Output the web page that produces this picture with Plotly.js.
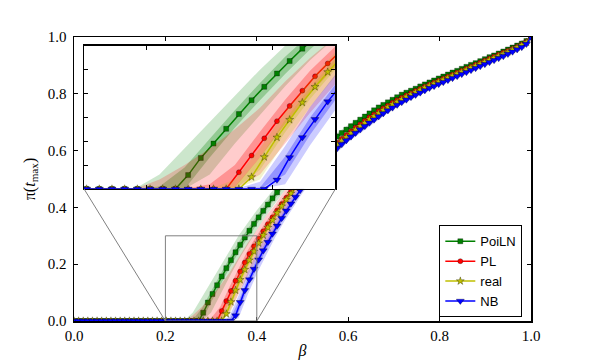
<!DOCTYPE html>
<html>
<head>
<meta charset="utf-8">
<script src="https://cdn.plot.ly/plotly-3.0.1.min.js"></script>
<style>html,body{margin:0;padding:0;background:#fff;}#chart{width:590px;height:360px;}</style>
</head>
<body>
<div id="chart"></div>
<script>
// beta grid of the curves (100 points from 0 to 1)
const beta = [
0.0000,0.0101,0.0202,0.0303,0.0404,0.0505,0.0606,0.0707,0.0808,0.0909,
0.1010,0.1111,0.1212,0.1313,0.1414,0.1515,0.1616,0.1717,0.1818,0.1919,
0.2020,0.2121,0.2222,0.2323,0.2424,0.2525,0.2626,0.2727,0.2828,0.2929,
0.3030,0.3131,0.3232,0.3333,0.3434,0.3535,0.3636,0.3737,0.3838,0.3939,
0.4040,0.4141,0.4242,0.4343,0.4444,0.4545,0.4646,0.4747,0.4848,0.4949,
0.5051,0.5152,0.5253,0.5354,0.5455,0.5556,0.5657,0.5758,0.5859,0.5960,
0.6061,0.6162,0.6263,0.6364,0.6465,0.6566,0.6667,0.6768,0.6869,0.6970,
0.7071,0.7172,0.7273,0.7374,0.7475,0.7576,0.7677,0.7778,0.7879,0.7980,
0.8081,0.8182,0.8283,0.8384,0.8485,0.8586,0.8687,0.8788,0.8889,0.8990,
0.9091,0.9192,0.9293,0.9394,0.9495,0.9596,0.9697,0.9798,0.9899,1.0000];

const poiLN = [
0,0,0,0,0,0,0,0,0,0,
0,0,0,0,0,0,0,0,0,0,
0,0,0,0,0,0,0,0,0.029,0.065,
0.095,0.126,0.157,0.186,0.214,0.242,0.268,0.294,0.318,0.342,
0.365,0.388,0.410,0.432,0.453,0.473,0.491,0.508,0.525,0.541,
0.556,0.571,0.586,0.600,0.613,0.626,0.638,0.650,0.662,0.674,
0.686,0.698,0.709,0.720,0.731,0.742,0.752,0.761,0.770,0.779,
0.788,0.797,0.804,0.811,0.818,0.826,0.833,0.840,0.847,0.854,
0.861,0.868,0.875,0.881,0.888,0.895,0.902,0.908,0.915,0.922,
0.929,0.935,0.942,0.949,0.956,0.963,0.970,0.977,0.986,1.000];

const pl = [
0,0,0,0,0,0,0,0,0,0,
0,0,0,0,0,0,0,0,0,0,
0,0,0,0,0,0,0,0,0,0,
0,0,0.035,0.070,0.106,0.142,0.174,0.206,0.236,0.263,
0.290,0.316,0.341,0.365,0.389,0.412,0.434,0.456,0.477,0.496,
0.514,0.532,0.549,0.566,0.582,0.598,0.613,0.628,0.642,0.655,
0.668,0.681,0.693,0.705,0.717,0.728,0.739,0.749,0.759,0.769,
0.778,0.787,0.795,0.803,0.811,0.818,0.826,0.833,0.840,0.847,
0.854,0.861,0.868,0.875,0.882,0.889,0.896,0.903,0.910,0.917,
0.924,0.931,0.938,0.945,0.952,0.959,0.966,0.974,0.983,1.000];

const real = [
0,0,0,0,0,0,0,0,0,0,
0,0,0,0,0,0,0,0,0,0,
0,0,0,0,0,0,0,0,0,0,
0,0,0,0.025,0.067,0.108,0.145,0.181,0.214,0.245,
0.274,0.302,0.329,0.355,0.380,0.404,0.427,0.449,0.470,0.489,
0.508,0.526,0.543,0.560,0.576,0.592,0.607,0.621,0.635,0.648,
0.661,0.674,0.686,0.698,0.710,0.721,0.732,0.743,0.753,0.763,
0.772,0.781,0.790,0.798,0.806,0.814,0.822,0.829,0.836,0.843,
0.850,0.857,0.864,0.871,0.878,0.885,0.892,0.899,0.906,0.913,
0.920,0.927,0.934,0.941,0.948,0.956,0.964,0.972,0.981,1.000];

const nb = [
0,0,0,0,0,0,0,0,0,0,
0,0,0,0,0,0,0,0,0,0,
0,0,0,0,0,0,0,0,0,0,
0,0,0,0,0,0.019,0.066,0.108,0.146,0.183,
0.216,0.248,0.278,0.307,0.335,0.362,0.388,0.413,0.437,0.460,
0.482,0.503,0.523,0.542,0.560,0.577,0.593,0.608,0.622,0.636,
0.649,0.662,0.674,0.686,0.698,0.709,0.720,0.731,0.741,0.751,
0.761,0.770,0.779,0.788,0.796,0.804,0.812,0.820,0.827,0.834,
0.841,0.848,0.855,0.862,0.869,0.876,0.883,0.890,0.897,0.904,
0.911,0.918,0.925,0.932,0.940,0.948,0.956,0.964,0.975,1.000];

// band grid and band edges (outer = light, inner = darker)
const betaBand = [0,0.20,0.22,0.24,0.26,0.28,0.30,0.32,0.34,0.36,0.38,0.40,0.42,0.44,0.46,0.48,0.50,0.55,0.60,0.70,0.80,0.90,1.0];

const poiLNOuterHi = [0,0,0,0,0.03,0.085,0.14,0.195,0.25,0.30,0.345,0.39,0.43,0.47,0.505,0.537,0.567,0.633,0.69,0.79,0.861,0.927,1.0];
const poiLNOuterLo = [0,0,0,0,0,0,0.03,0.095,0.155,0.215,0.27,0.32,0.37,0.415,0.458,0.495,0.529,0.604,0.667,0.773,0.849,0.919,1.0];
const poiLNInnerHi = [0,0,0,0,0.005,0.045,0.105,0.165,0.222,0.277,0.325,0.371,0.414,0.456,0.493,0.526,0.557,0.625,0.684,0.786,0.858,0.925,1.0];
const poiLNInnerLo = [0,0,0,0,0,0,0.066,0.128,0.186,0.241,0.293,0.341,0.388,0.432,0.473,0.508,0.541,0.613,0.674,0.778,0.852,0.921,1.0];

const plOuterHi = [0,0,0,0,0.02,0.05,0.085,0.125,0.17,0.225,0.275,0.32,0.37,0.41,0.458,0.495,0.53,0.60,0.668,0.776,0.851,0.919,1.0];
const plOuterLo = [0,0,0,0,0,0,0,0,0.03,0.095,0.16,0.22,0.275,0.33,0.385,0.435,0.48,0.576,0.651,0.767,0.845,0.915,1.0];
const plInnerHi = [0,0,0,0,0,0,0.01,0.05,0.12,0.187,0.248,0.301,0.35,0.396,0.44,0.481,0.516,0.596,0.665,0.775,0.850,0.918,1.0];
const plInnerLo = [0,0,0,0,0,0,0,0.003,0.066,0.136,0.2,0.256,0.309,0.359,0.408,0.453,0.494,0.582,0.655,0.769,0.846,0.916,1.0];

const realOuterHi = [0,0,0,0,0,0,0,0.02,0.085,0.162,0.228,0.287,0.34,0.389,0.433,0.475,0.512,0.593,0.661,0.771,0.847,0.916,1.0];
const realOuterLo = [0,0,0,0,0,0,0,0,0.02,0.1,0.172,0.236,0.295,0.349,0.399,0.445,0.486,0.573,0.645,0.761,0.841,0.912,1.0];
const realInnerHi = [0,0,0,0,0,0,0,0.005,0.066,0.145,0.213,0.273,0.328,0.378,0.424,0.467,0.505,0.588,0.657,0.768,0.845,0.915,1.0];
const realInnerLo = [0,0,0,0,0,0,0,0,0.04,0.119,0.189,0.251,0.308,0.36,0.408,0.453,0.493,0.578,0.649,0.764,0.843,0.913,1.0];

const nbOuterHi = [0,0,0,0,0,0,0,0,0.015,0.09,0.172,0.24,0.298,0.352,0.402,0.448,0.491,0.582,0.652,0.761,0.839,0.908,1.0];
const nbOuterLo = [0,0,0,0,0,0,0,0,0,0.01,0.092,0.166,0.232,0.294,0.35,0.402,0.451,0.554,0.630,0.747,0.831,0.902,1.0];
const nbInnerHi = [0,0,0,0,0,0,0,0,0.003,0.068,0.15,0.219,0.279,0.336,0.388,0.436,0.48,0.574,0.646,0.757,0.837,0.906,1.0];
const nbInnerLo = [0,0,0,0,0,0,0,0,0,0.03,0.114,0.187,0.251,0.31,0.364,0.414,0.462,0.562,0.636,0.751,0.833,0.904,1.0];

const seriesNames = ['PoiLN','PL','real','NB'];
const mainXTicks = [0,0.2,0.4,0.6,0.8,1.0];
const mainXTickText = ['0.0','0.2','0.4','0.6','0.8','1.0'];
const mainYTicks = [0,0.2,0.4,0.6,0.8,1.0];
const mainYTickText = ['0.0','0.2','0.4','0.6','0.8','1.0'];
const zoomX = [0.2,0.4];
const zoomY = [0,0.3];
const insetXTicks = [0.25,0.30,0.35];
const insetYTicks = [0.05,0.10,0.15,0.20,0.25];

// ----- styling -----
const insetDomX = [0.022,0.572];
const insetDomY = [0.465,0.969];
const styles = [
  {name: seriesNames[0], y: poiLN, color:'rgb(0,128,0)', rgb:'0,128,0', symbol:'square', size:5,
   oh: poiLNOuterHi, ol: poiLNOuterLo, ih: poiLNInnerHi, il: poiLNInnerLo},
  {name: seriesNames[1], y: pl, color:'rgb(255,0,0)', rgb:'255,0,0', symbol:'circle', size:5,
   oh: plOuterHi, ol: plOuterLo, ih: plInnerHi, il: plInnerLo},
  {name: seriesNames[2], y: real, color:'rgb(191,191,0)', rgb:'191,191,0', symbol:'star', size:6,
   oh: realOuterHi, ol: realOuterLo, ih: realInnerHi, il: realInnerLo},
  {name: seriesNames[3], y: nb, color:'rgb(0,0,255)', rgb:'0,0,255', symbol:'triangle-down', size:7,
   oh: nbOuterHi, ol: nbOuterLo, ih: nbInnerHi, il: nbInnerLo}
];

const traces = [];
function addSubplot(xa, ya, legend) {
  styles.forEach(s => {
    [[s.ol, s.oh, 0.2], [s.il, s.ih, 0.28]].forEach(([lo, hi, a]) => {
      traces.push({x: betaBand, y: lo, xaxis: xa, yaxis: ya, mode:'lines', line:{width:0, color:'rgba(0,0,0,0)'},
                   showlegend:false, hoverinfo:'skip'});
      traces.push({x: betaBand, y: hi, xaxis: xa, yaxis: ya, mode:'lines', line:{width:0, color:'rgba(0,0,0,0)'},
                   fill:'tonexty', fillcolor:'rgba(' + s.rgb + ',' + a + ')', showlegend:false, hoverinfo:'skip'});
    });
    traces.push({x: beta, y: s.y, xaxis: xa, yaxis: ya, name: s.name, mode:'lines+markers',
                 line:{color: s.color, width:1.5},
                 marker:{symbol: s.symbol, size: s.size, color: s.color, line:{color:'rgba(0,0,0,0.6)', width:0.5}},
                 showlegend: legend});
  });
}
addSubplot('x','y', true);
addSubplot('x2','y2', false);

const serif = 'Liberation Serif, Times New Roman, serif';
const axisCommon = {ticks:'inside', ticklen:4, tickwidth:1, tickcolor:'#000', showline:true, linecolor:'#000',
  linewidth:1.5, mirror:'allticks', showgrid:false, zeroline:false,
  tickfont:{family: serif, size:15, color:'#000'}};

const layout = {
  width:590, height:360,
  margin:{l:74, r:59, t:37, b:39, pad:0},
  paper_bgcolor:'#fff', plot_bgcolor:'#fff',
  showlegend:true,
  xaxis: Object.assign({}, axisCommon, {domain:[0,1], range:[0,1], tickvals: mainXTicks, ticktext: mainXTickText,
    anchor:'y', title:{text:'<i>β</i>', font:{family: serif, size:16, color:'#000'}, standoff:5}}),
  yaxis: Object.assign({}, axisCommon, {domain:[0,1], range:[0,1], tickvals: mainYTicks, ticktext: mainYTickText,
    anchor:'x', ticklabelstandoff:3,
    title:{text:'π(<i>t</i><sub>max</sub>)', font:{family: serif, size:16, color:'#000'}, standoff:8}}),
  xaxis2: Object.assign({}, axisCommon, {domain: insetDomX, range: zoomX, tickvals: insetXTicks,
    showticklabels:false, anchor:'y2'}),
  yaxis2: Object.assign({}, axisCommon, {domain: insetDomY, range: zoomY, tickvals: insetYTicks,
    showticklabels:false, anchor:'x2'}),
  legend:{x:0.981, y:0.013, xanchor:'right', yanchor:'bottom', bgcolor:'#fff', bordercolor:'#000', borderwidth:1,
    traceorder:'normal', itemwidth:30,
    font:{family:'Liberation Sans, Arial, sans-serif', size:13, color:'#000'}, tracegroupgap:0},
  shapes:[
    {type:'rect', xref:'x', yref:'y', x0: zoomX[0], x1: zoomX[1], y0: zoomY[0], y1: zoomY[1],
     line:{color:'#808080', width:1}, layer:'above'},
    {type:'line', xref:'paper', yref:'paper', x0: zoomX[0], y0: zoomY[0], x1: insetDomX[0], y1: insetDomY[0],
     line:{color:'#808080', width:1}, layer:'above'},
    {type:'line', xref:'paper', yref:'paper', x0: zoomX[1], y0: zoomY[0], x1: insetDomX[1], y1: insetDomY[0],
     line:{color:'#808080', width:1}, layer:'above'}
  ]
};

Plotly.newPlot('chart', traces, layout, {staticPlot:true, displayModeBar:false});
</script>
</body>
</html>
